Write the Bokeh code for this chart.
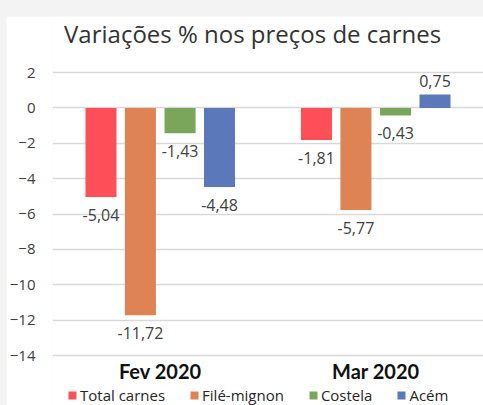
from bokeh.plotting import figure
from bokeh.models import (ColumnDataSource, FactorRange, Range1d, Legend, LegendItem,
                          FixedTicker, Label)
from bokeh.transform import dodge
from bokeh.layouts import column
from bokeh.core.properties import value
from bokeh.embed import file_html
from bokeh.resources import INLINE

# ---- data ----
months = ["Fev 2020", "Mar 2020"]
series = ["Total carnes", "Filé-mignon", "Costela", "Acém"]
total_carnes = [-5.04, -1.81]
file_mignon = [-11.72, -5.77]
costela = [-1.43, -0.43]
acem = [-4.48, 0.75]
y_ticks = [-14, -12, -10, -8, -6, -4, -2, 0, 2]
title_text = "Variações % nos preços de carnes"

colors = ["#FE4E58", "#DE8454", "#7AA65C", "#5B79BA"]
offsets = [-0.275, -0.092, 0.092, 0.275]
bar_w = 0.144

# ---- layout geometry (pixels) ----
FIG_W, FIG_H = 477, 389
FRAME_LEFT = 44
Y_TOP_PX, Y_BOT_PX = 56, 339      # where y=2 and y=-14 sit inside the figure
ppu = (Y_BOT_PX - Y_TOP_PX) / (y_ticks[-1] - y_ticks[0])
y_hi = y_ticks[-1] + Y_TOP_PX / ppu
y_lo = y_ticks[0] - (FIG_H - Y_BOT_PX) / ppu


def px_to_y(py):
    return y_ticks[-1] - (py - Y_TOP_PX) / ppu


p = figure(x_range=FactorRange(*months), y_range=Range1d(y_lo, y_hi),
           width=FIG_W, height=FIG_H, output_backend="svg", toolbar_location=None,
           min_border_left=FRAME_LEFT, min_border_right=0, min_border_top=0,
           min_border_bottom=0)
p.title.visible = False
p.margin = (16, 0, 0, 6)
p.outline_line_color = None
p.background_fill_color = "white"
p.border_fill_color = "white"
p.xaxis.visible = False

p.xgrid.grid_line_color = None
p.ygrid.ticker = FixedTicker(ticks=y_ticks)
p.ygrid.grid_line_color = "#d9d9d9"
p.ygrid.grid_line_width = 1.3
p.yaxis.ticker = FixedTicker(ticks=y_ticks)
p.yaxis.axis_line_color = None
p.yaxis.major_tick_line_color = None
p.yaxis.minor_tick_line_color = None
p.yaxis.major_label_standoff = 11
p.yaxis.major_label_text_font = "Open Sans"
p.yaxis.major_label_text_font_size = "15px"
p.yaxis.major_label_text_color = "#404040"

values_list = [total_carnes, file_mignon, costela, acem]
items = []
for name, vals, col, off in zip(series, values_list, colors, offsets):
    labels = [("%.2f" % v).replace(".", ",") for v in vals]
    src = ColumnDataSource(dict(month=months, v=vals, lab=labels,
                                yoff=[12 if v < 0 else -8 for v in vals],
                                base=["top" if v < 0 else "bottom" for v in vals]))
    r = p.vbar(x=dodge("month", off, range=p.x_range), top="v", bottom=0,
               width=bar_w, source=src, fill_color=col, line_color=None)
    p.text(x=dodge("month", off, range=p.x_range), y="v", text="lab", source=src,
           y_offset="yoff", text_baseline="base", text_align="center",
           text_font=value("Open Sans"), text_font_size="16px", text_color="#404040")
    items.append(LegendItem(label=name, renderers=[r]))

# category labels (x axis)
cat_src = ColumnDataSource(dict(month=months, y=[px_to_y(354)] * len(months)))
p.text(x="month", y="y", text="month", source=cat_src, text_align="center",
       text_baseline="middle", text_font=value("Lato"), text_font_style="bold",
       text_font_size="20px", text_color="#111111")

# title
p.add_layout(Label(x=(251 - 50) / 216.5, y=px_to_y(17), text=title_text,
                   text_align="center", text_baseline="alphabetic",
                   text_font="Open Sans", text_font_size="24px", text_color="#333333"))

legend = Legend(items=items, orientation="horizontal", location=(15, 0),
                padding=0, margin=0, spacing=24, label_standoff=3,
                glyph_width=10, glyph_height=10,
                label_text_font="Open Sans", label_text_font_size="15px",
                label_text_color="#262626",
                border_line_color=None, background_fill_alpha=0)
p.add_layout(legend, "center")

layout = column(p, styles={"background-color": "#f3f3f3"})
open("out.html", "w").write(file_html(layout, INLINE))
